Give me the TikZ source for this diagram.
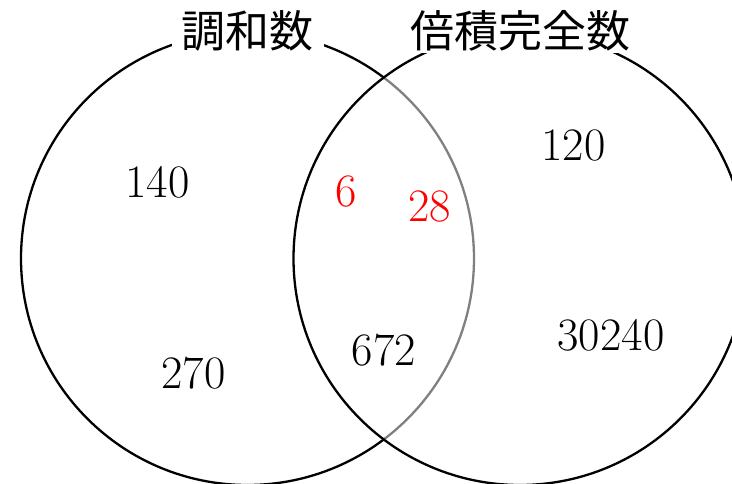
\documentclass[tikz,border=0pt]{standalone}
\usepackage{fontspec}
\newfontfamily\cjk{Noto Sans CJK JP}
\begin{document}
\begin{tikzpicture}[x=1pt,y=-1pt,
  setcircle/.style={circle, draw=black, line width=2.3pt, minimum size=453pt, inner sep=0pt},
  setlabel/.style={fill=white, inner sep=0pt, inner xsep=10pt, inner ysep=2pt, font=\cjk\fontsize{44}{50}\selectfont},
  num/.style={anchor=base, inner sep=0pt, font=\fontsize{46.5}{52}\selectfont},
  hl/.style={num, text=red}]
\useasboundingbox (0,0) rectangle (732,484);
\clip (0,0) rectangle (732,484);
\node[setcircle] (L) at (247.5,258.5) {};
\node[setcircle, fill=white, fill opacity=0.5] (R) at (520,258.5) {};
\node[setlabel] (Lt) at (L.north) {調和数};
\node[setlabel] (Rt) at (R.north) {倍積完全数};
\node[num] (n140) at (157.5,198) {140};
\node[num] (n270) at (193.5,388) {270};
\node[num] (n120) at (573.5,161) {120};
\node[num] (n30240) at (611,350) {30240};
\node[num] (n672) at (384,365) {672};
\node[hl] (n6) at (346.5,207) {6};
\node[hl] (n28) at (429.5,222) {28};
\end{tikzpicture}
\end{document}
